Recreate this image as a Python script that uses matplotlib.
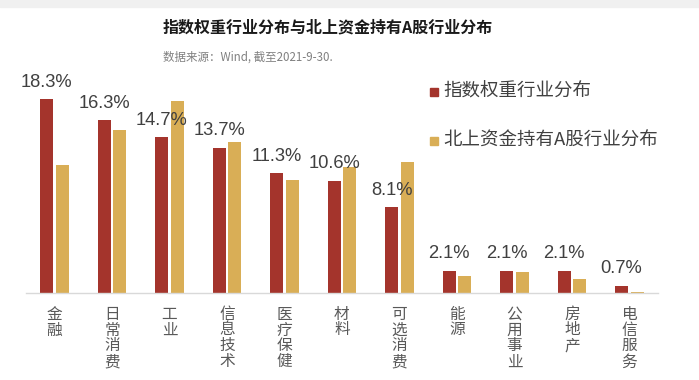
import matplotlib
matplotlib.use("Agg")
import matplotlib.pyplot as plt
from matplotlib.patches import Rectangle
import numpy as np

plt.rcParams['font.family'] = ['Liberation Sans', 'Noto Sans CJK SC', 'DejaVu Sans']

categories = ["金融", "日常消费", "工业", "信息技术", "医疗保健", "材料", "可选消费",
              "能源", "公用事业", "房地产", "电信服务"]
index_weight = [18.3, 16.3, 14.7, 13.7, 11.3, 10.6, 8.1, 2.1, 2.1, 2.1, 0.7]
northbound = [12.1, 15.4, 18.1, 14.2, 10.7, 11.9, 12.4, 1.6, 2.0, 1.3, 0.1]
series_names = ["指数权重行业分布", "北上资金持有A股行业分布"]
value_labels = ["18.3%", "16.3%", "14.7%", "13.7%", "11.3%", "10.6%", "8.1%",
                "2.1%", "2.1%", "2.1%", "0.7%"]
title = "指数权重行业分布与北上资金持有A股行业分布"
subtitle = "数据来源：Wind, 截至2021-9-30."

RED = "#A4342C"
GOLD = "#D9AE56"

W, H = 699, 380
fig = plt.figure(figsize=(W / 100, H / 100), dpi=100)

# top gray band
fig.patches.append(Rectangle((0, 1 - 7 / H), 1, 7 / H, transform=fig.transFigure,
                             color="#F0F0F0", zorder=0))

left_px, right_px = 25.75, 658.25
bottom_px, top_px = 293, 81
ax = fig.add_axes([left_px / W, (H - bottom_px) / H, (right_px - left_px) / W,
                   (bottom_px - top_px) / H])

x = np.arange(len(categories))
bw = 0.226
off = 0.139
ax.bar(x - off, index_weight, bw, color=RED, zorder=2)
ax.bar(x + off, northbound, bw, color=GOLD, zorder=2)

for xi, v, lab in zip(x, index_weight, value_labels):
    ax.annotate(lab, (xi - off, v), xytext=(0, 6), textcoords="offset points",
                ha="center", va="bottom", fontsize=13.2, color="#404040",
                family=['Liberation Sans', 'DejaVu Sans'], annotation_clip=False)

ax.set_xlim(-0.5, len(categories) - 0.5)
ax.set_ylim(0, 20)
ax.set_yticks([])
ax.set_xticks(x)
ax.set_xticklabels(["\n".join(c) for c in categories], fontsize=11.3,
                   color="#595959", linespacing=0.92, va="top",
                   family=['Noto Sans CJK SC'])
ax.tick_params(axis="x", length=0, pad=9)
for s in ["left", "right", "top"]:
    ax.spines[s].set_visible(False)
ax.spines["bottom"].set_color("#D9D9D9")
ax.spines["bottom"].set_linewidth(1.0)

# title / subtitle
fig.text(163 / W, 1 - 27 / H, title, fontsize=11.5, fontweight="bold",
         color="#1A1A1A", va="center", ha="left", family=['Noto Sans CJK SC'])
fig.text(163 / W, 1 - 57 / H, subtitle, fontsize=8.3, color="#808080",
         va="center", ha="left", family=['Noto Sans CJK SC'])

# legend (manual)
for i, (name, col) in enumerate(zip(series_names, [RED, GOLD])):
    yc = 92 + 49 * i
    fig.patches.append(Rectangle((430 / W, 1 - (yc + 4) / H), 8 / W, 8 / H,
                                 transform=fig.transFigure, color=col))
    fig.text(443 / W, 1 - yc / H, name, fontsize=13.3, color="#404040",
             va="center", ha="left",
             family=['Noto Sans CJK SC', 'Liberation Sans'])

fig.savefig("out.png", dpi=100)
